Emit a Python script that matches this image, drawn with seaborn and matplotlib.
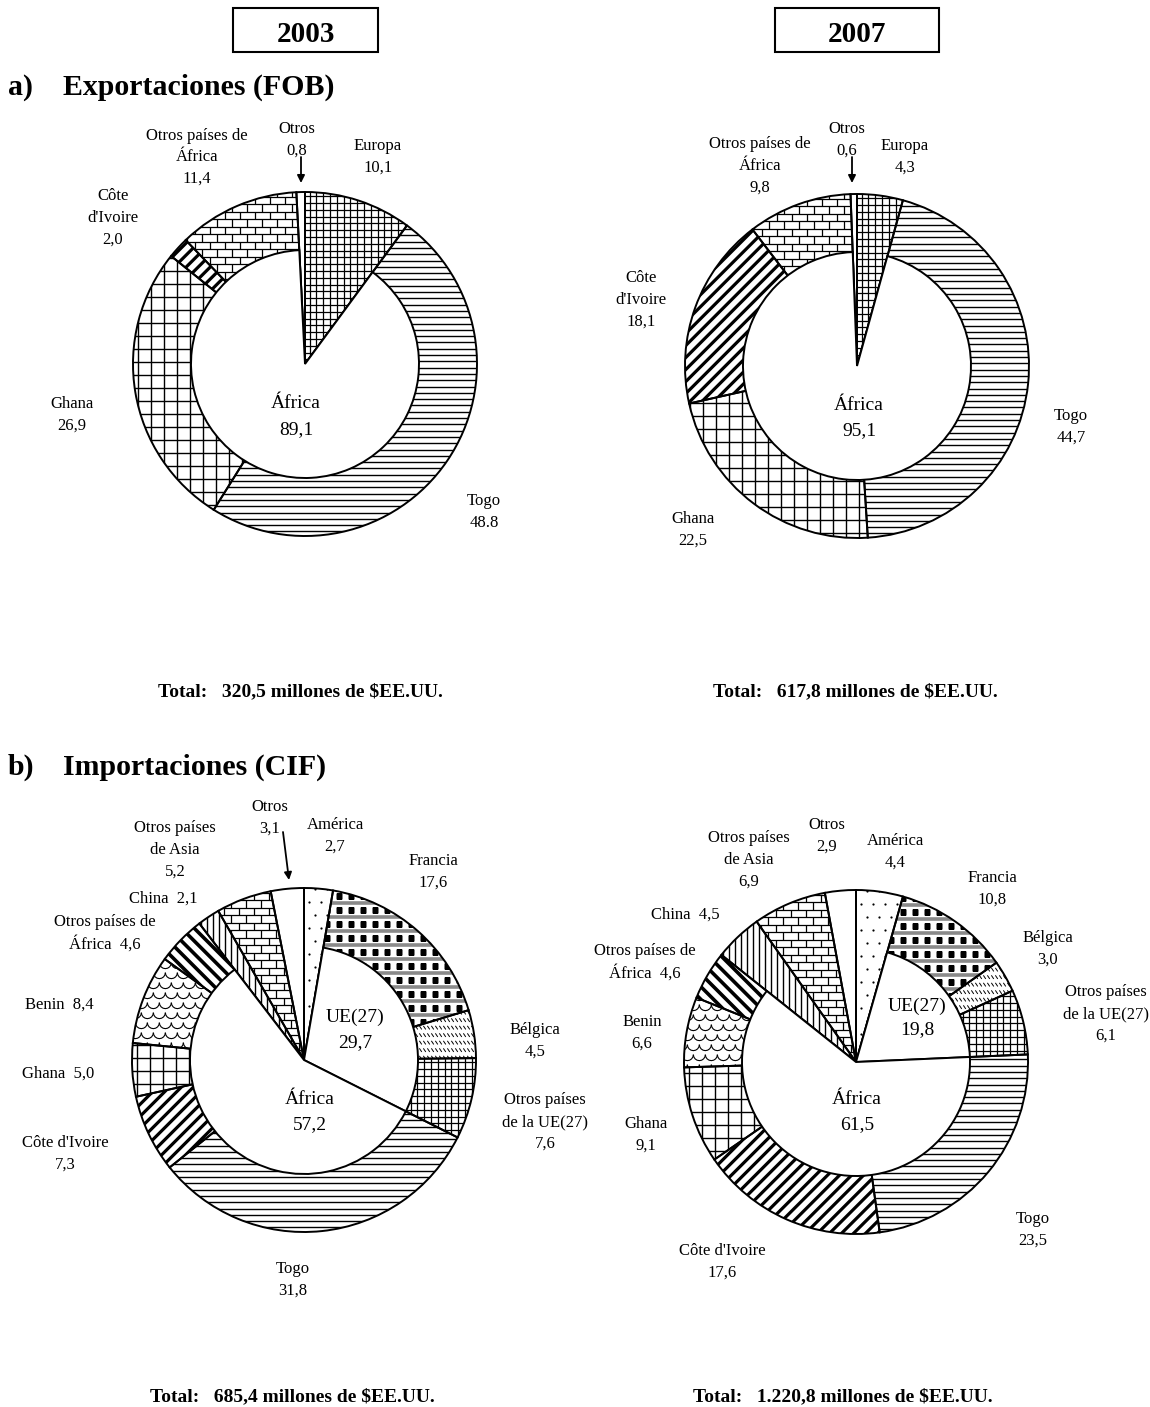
import numpy as np
import matplotlib
matplotlib.use("Agg")
import matplotlib.pyplot as plt
import seaborn as sns
from matplotlib.collections import LineCollection
from matplotlib.patches import Rectangle

sns.set_theme(style="white")
plt.rcParams['font.family'] = ['Liberation Serif', 'DejaVu Serif']

# ---------------- data ----------------
exp_cats = ['Europa', 'Togo', 'Ghana', "Côte d'Ivoire", 'Otros países de África', 'Otros']
exp_2003 = [10.1, 48.8, 26.9, 2.0, 11.4, 0.8]
exp_2007 = [4.3, 44.7, 22.5, 18.1, 9.8, 0.6]
exp_group_of = [0, 1, 1, 1, 1, 2]          # Europa | África | Otros
exp_group_sub = [False, True, False]
exp_africa = [89.1, 95.1]

imp_cats = ['América', 'Francia', 'Bélgica', 'Otros países de la UE(27)', 'Togo',
            "Côte d'Ivoire", 'Ghana', 'Benin', 'Otros países de África', 'China',
            'Otros países de Asia', 'Otros']
imp_2003 = [2.7, 17.6, 4.5, 7.6, 31.8, 7.3, 5.0, 8.4, 4.6, 2.1, 5.2, 3.1]
imp_2007 = [4.4, 10.8, 3.0, 6.1, 23.5, 17.6, 9.1, 6.6, 4.6, 4.5, 6.9, 2.9]
imp_group_of = [0, 1, 1, 1, 2, 2, 2, 2, 2, 3, 4, 5]  # América | UE | África | China | Asia | Otros
imp_group_sub = [False, True, True, False, False, False]
imp_ue = [29.7, 19.8]
imp_africa = [57.2, 61.5]

totals = ['320,5', '617,8', '685,4', '1.220,8']
years = ['2003', '2007']

# ---------------- styling ----------------
exp_pats = ['fine', 'hlines', 'grid', 'diag', 'brick', 'white']
imp_pats = ['dots', 'francia', 'belgica', 'fine', 'hlines', 'diag', 'grid', 'benin',
            'back', 'vlines', 'brick', 'white']

exp_names_03 = ['Europa\n', 'Togo\n', 'Ghana\n', "Côte\nd'Ivoire\n", 'Otros países de\nÁfrica\n', 'Otros\n']
exp_names_07 = exp_names_03
imp_names_03 = ['América\n', 'Francia\n', 'Bélgica\n', 'Otros países\nde la UE(27)\n', 'Togo\n',
                "Côte d'Ivoire\n", 'Ghana  ', 'Benin  ', 'Otros países de\nÁfrica  ', 'China  ',
                'Otros países\nde Asia\n', 'Otros\n']
imp_names_07 = ['América\n', 'Francia\n', 'Bélgica\n', 'Otros países\nde la UE(27)\n', 'Togo\n',
                "Côte d'Ivoire\n", 'Ghana\n', 'Benin\n', 'Otros países de\nÁfrica  ', 'China  ',
                'Otros países\nde Asia\n', 'Otros\n']

R_PX = 172.0
RIN = 114.0 / R_PX
EXT = 1.12


def u(px):
    return px / R_PX


def fmt(v, sep=','):
    return f"{v:.1f}".replace('.', sep)


def hsegs(sp):
    return [[(-EXT, y), (EXT, y)] for y in np.arange(-EXT, EXT, u(sp))]


def vsegs(sp):
    return [[(x, -EXT), (x, EXT)] for x in np.arange(-EXT, EXT, u(sp))]


def dsegs(sp, sign):
    step = u(sp) * np.sqrt(2)
    out = []
    for c in np.arange(-2 * EXT, 2 * EXT, step):
        if sign > 0:
            out.append([(-EXT, -EXT + c), (EXT, EXT + c)])
        else:
            out.append([(-EXT, EXT + c), (EXT, -EXT + c)])
    return out


def bricksegs(h, w):
    segs = []
    ys = np.arange(-EXT, EXT, u(h))
    for k, y in enumerate(ys):
        segs.append([(-EXT, y), (EXT, y)])
        off = (k % 2) * u(w) / 2
        for x in np.arange(-EXT + off, EXT, u(w)):
            segs.append([(x, y), (x, y + u(h))])
    return segs


def scalesegs(h, w):
    t = np.linspace(np.pi, 2 * np.pi, 9)
    r = u(w) / 2
    out = []
    for k, y in enumerate(np.arange(-EXT, EXT, u(h))):
        off = (k % 2) * u(w) / 2
        for x in np.arange(-EXT + off, EXT, u(w)):
            out.append(np.column_stack([x + r * np.cos(t), y + r * np.sin(t)]))
    return out


def dashsegs(h, w):
    out = []
    for y in np.arange(-EXT, EXT, u(h)):
        for x in np.arange(-EXT, EXT, u(w)):
            out.append([(x, y + u(1.8)), (x + u(2.4), y - u(1.8))])
    return out


def grid_pts(sx, sy, stagger=True, yoff=0.0):
    xs, ys = [], []
    for k, y in enumerate(np.arange(-EXT, EXT, u(sy))):
        off = (k % 2) * u(sx) / 2 if stagger else 0.0
        for x in np.arange(-EXT + off, EXT, u(sx)):
            xs.append(x)
            ys.append(y + u(yoff))
    return xs, ys


def add_lc(ax, segs, clip, lw, color='black'):
    lc = LineCollection(segs, colors=color, linewidths=lw, zorder=2, capstyle='butt')
    ax.add_collection(lc)
    lc.set_clip_path(clip)


def draw_pattern(ax, wedge, kind):
    if kind == 'hlines':
        add_lc(ax, hsegs(6.3), wedge, 1.0)
    elif kind == 'vlines':
        add_lc(ax, vsegs(6.0), wedge, 1.0)
    elif kind == 'grid':
        add_lc(ax, hsegs(13) + vsegs(13), wedge, 1.0)
    elif kind == 'fine':
        add_lc(ax, hsegs(6.8) + vsegs(6.8), wedge, 0.9)
    elif kind == 'diag':
        add_lc(ax, dsegs(8.5, 1), wedge, 2.3)
    elif kind == 'back':
        add_lc(ax, dsegs(9.0, -1), wedge, 2.6)
    elif kind == 'brick':
        add_lc(ax, bricksegs(7.5, 15), wedge, 0.9)
    elif kind == 'benin':
        add_lc(ax, scalesegs(10, 12), wedge, 0.8)
    elif kind == 'belgica':
        add_lc(ax, dashsegs(7.5, 4.0), wedge, 0.7)
    elif kind == 'dots':
        xs, ys = grid_pts(12, 13)
        ln, = ax.plot(xs, ys, linestyle='none', marker='o', ms=1.6, mfc='black',
                      mec='none', zorder=2)
        ln.set_clip_path(wedge)
    elif kind == 'francia':
        add_lc(ax, hsegs(14), wedge, 2.6, color='#8a8a8a')
        xs, ys = grid_pts(12, 14, stagger=False, yoff=7)
        ln, = ax.plot(xs, ys, linestyle='none', marker='s', ms=4.3, mfc='black',
                      mec='none', zorder=2)
        ln.set_clip_path(wedge)


def donut(fig, cx, cy, vals, group_of, group_sub, pats):
    S = 190.0
    ax = fig.add_axes([(cx - S) / 1150, 1 - (cy + S) / 1407, 2 * S / 1150, 2 * S / 1407])
    kw = dict(startangle=90, counterclock=False, radius=1.0)
    fills, _ = ax.pie(vals, colors=['white'] * len(vals),
                      wedgeprops=dict(edgecolor='none', linewidth=0), **kw)
    for w, p in zip(fills, pats):
        w.set_zorder(1)
        if p != 'white':
            draw_pattern(ax, w, p)
    edges, _ = ax.pie(vals, wedgeprops=dict(fill=False, edgecolor='black', linewidth=1.4), **kw)
    for w in edges:
        w.set_zorder(3)
    ng = len(group_sub)
    inner = [sum(v for v, g in zip(vals, group_of) if g == k) for k in range(ng)]
    ins, _ = ax.pie(inner, colors=['white'] * ng, radius=RIN, startangle=90, counterclock=False,
                    wedgeprops=dict(edgecolor='black', linewidth=1.4))
    for w, sub in zip(ins, group_sub):
        w.set_zorder(4)
        if not sub:
            w.set_visible(False)
    lim = S / R_PX
    ax.set_xlim(-lim, lim)
    ax.set_ylim(-lim, lim)
    ax.set_aspect('equal')
    ax.axis('off')
    return ax


fig = plt.figure(figsize=(11.5, 14.07), dpi=100)

charts = [
    dict(cx=305, cy=364, vals=exp_2003, g=exp_group_of, sub=exp_group_sub, pats=exp_pats),
    dict(cx=857, cy=366, vals=exp_2007, g=exp_group_of, sub=exp_group_sub, pats=exp_pats),
    dict(cx=304, cy=1060, vals=imp_2003, g=imp_group_of, sub=imp_group_sub, pats=imp_pats),
    dict(cx=856, cy=1062, vals=imp_2007, g=imp_group_of, sub=imp_group_sub, pats=imp_pats),
]
for c in charts:
    donut(fig, c['cx'], c['cy'], c['vals'], c['g'], c['sub'], c['pats'])

# ---------------- overlay for text ----------------
ov = fig.add_axes([0, 0, 1, 1], zorder=10)
ov.set_xlim(0, 1150)
ov.set_ylim(1407, 0)
ov.axis('off')
ov.patch.set_alpha(0)


def put(x, y, text, size=12, dy=21.5, weight='normal', ha='center'):
    lines = text.split('\n')
    n = len(lines)
    for i, ln in enumerate(lines):
        ov.text(x, y + (i - (n - 1) / 2) * dy, ln, ha=ha, va='center_baseline',
                fontsize=size, fontweight=weight, color='black')


# year boxes
for (x0, x1), yr in zip([(233, 378), (775, 939)], years):
    ov.add_patch(Rectangle((x0, 8), x1 - x0, 44, fill=False, edgecolor='black', linewidth=1.5))
    put((x0 + x1) / 2, 31, yr, size=21, weight='bold')

# section titles
put(8, 84, 'a)', size=21.5, weight='bold', ha='left')
put(63, 84, 'Exportaciones (FOB)', size=21.5, weight='bold', ha='left')
put(8, 764, 'b)', size=21.5, weight='bold', ha='left')
put(63, 764, 'Importaciones (CIF)', size=21.5, weight='bold', ha='left')

# category labels
pos_e03 = [(378, 155), (484, 510), (72, 413), (113, 216), (197, 155), (297, 138)]
pos_e07 = [(905, 155), (1071, 425), (693, 528), (641, 298), (760, 164), (847, 138)]
pos_i03 = [(335, 834), (433, 870), (535, 1039), (545, 1120), (293, 1278), (65, 1152),
           (58, 1072), (59, 1003), (105, 931), (163, 897), (175, 848), (270, 816)]
pos_i07 = [(895, 850), (992, 887), (1048, 947), (1106, 1012), (1033, 1228), (722, 1260),
           (646, 1133), (642, 1031), (645, 960), (685, 913), (749, 858), (827, 834)]

for names, vals, pos in [(exp_names_03, exp_2003, pos_e03), (exp_names_07, exp_2007, pos_e07),
                         (imp_names_03, imp_2003, pos_i03), (imp_names_07, imp_2007, pos_i07)]:
    for nm, v, (x, y) in zip(names, vals, pos):
        sep = '.' if (vals is exp_2003 and nm.startswith('Togo')) else ','
        put(x, y, nm + fmt(v, sep))

# group labels
put(296, 415, 'África\n' + fmt(exp_africa[0]), size=14, dy=26)
put(859, 416, 'África\n' + fmt(exp_africa[1]), size=14, dy=26)
put(355, 1028, 'UE(27)\n' + fmt(imp_ue[0]), size=14, dy=26)
put(917, 1016, 'UE(27)\n' + fmt(imp_ue[1]), size=14, dy=24)
put(310, 1110, 'África\n' + fmt(imp_africa[0]), size=14, dy=26)
put(857, 1110, 'África\n' + fmt(imp_africa[1]), size=14, dy=26)

# arrows for "Otros"
for (x0, y0), (x1, y1) in [((301, 157), (301, 183)), ((852, 157), (852, 183)),
                           ((283, 832), (289, 880))]:
    ov.annotate('', xy=(x1, y1), xytext=(x0, y0),
                arrowprops=dict(arrowstyle='-|>', color='black', lw=1.3, mutation_scale=11,
                                shrinkA=0, shrinkB=0))

# totals
for (x, y), t in zip([(300, 690), (855, 690), (292, 1395), (843, 1395)], totals):
    put(x, y, f'Total:   {t} millones de $EE.UU.', size=14, weight='bold')

fig.savefig('out.png', dpi=100, facecolor='white')
